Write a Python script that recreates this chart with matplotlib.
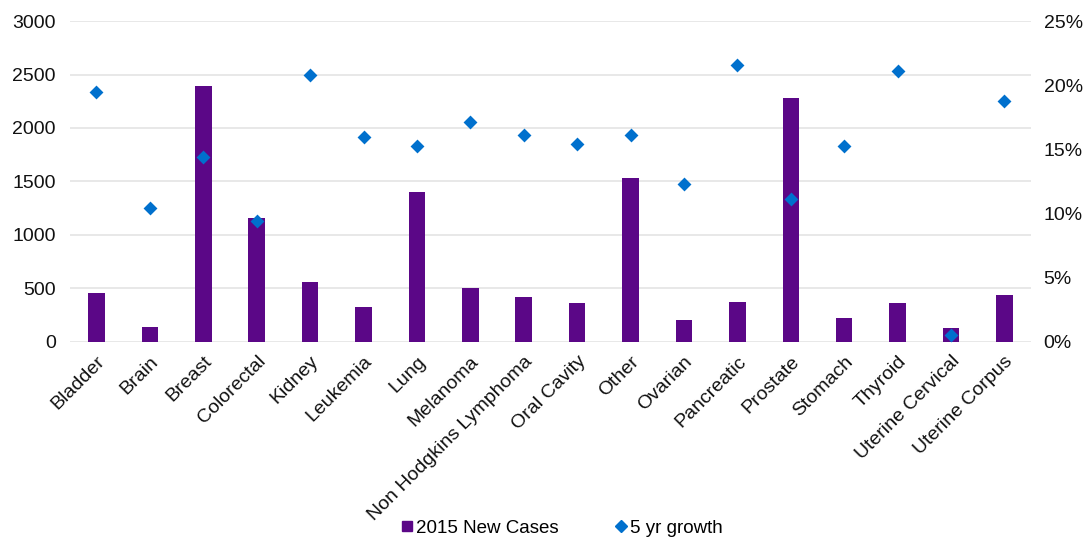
import matplotlib
matplotlib.use("Agg")
import matplotlib.pyplot as plt
from matplotlib.ticker import FuncFormatter, MultipleLocator
from matplotlib.lines import Line2D

categories = ["Bladder", "Brain", "Breast", "Colorectal", "Kidney", "Leukemia", "Lung",
              "Melanoma", "Non Hodgkins Lymphoma", "Oral Cavity", "Other", "Ovarian",
              "Pancreatic", "Prostate", "Stomach", "Thyroid", "Uterine Cervical", "Uterine Corpus"]
new_cases = [460, 135, 2390, 1160, 560, 330, 1400, 500, 420, 365, 1530, 200, 375, 2280,
             220, 365, 125, 442]
growth_pct = [19.5, 10.4, 14.4, 9.4, 20.8, 16.0, 15.3, 17.1, 16.1, 15.4, 16.1, 12.3,
              21.6, 11.1, 15.3, 21.1, 0.5, 18.8]

plt.rcParams['font.family'] = ['Liberation Sans', 'DejaVu Sans']

BAR = "#5B0787"
DIA = "#0070CD"
GRID = "#E2E2E2"

fig = plt.figure(figsize=(10.9, 5.4), dpi=100)
ax = fig.add_axes([0.064, 0.367, 0.882, 0.594])
ax2 = ax.twinx()

x = list(range(len(categories)))
ax.bar(x, new_cases, width=0.31, color=BAR, zorder=2)
ax2.scatter(x, growth_pct, marker="D", s=50, color=DIA, zorder=3, linewidths=0)

ax.set_xlim(-0.5, len(categories) - 0.5)
ax.set_ylim(0, 3000)
ax2.set_ylim(0, 25)
ax.yaxis.set_major_locator(MultipleLocator(500))
ax2.yaxis.set_major_locator(MultipleLocator(5))
ax2.yaxis.set_major_formatter(FuncFormatter(lambda v, p: f"{v:.0f}%"))

ax.grid(axis="y", color=GRID, linewidth=1.1, zorder=0)
ax.set_axisbelow(True)
for a in (ax, ax2):
    for s in a.spines.values():
        s.set_visible(False)
    a.tick_params(length=0, labelsize=14, colors="#111111")
ax.tick_params(axis="y", pad=10)
ax2.tick_params(axis="y", pad=9)

ax.set_xticks(x)
ax.set_xticklabels(categories, rotation=45, ha="right", rotation_mode="anchor")
ax.tick_params(axis="x", pad=8)

handles = [Line2D([], [], marker="s", linestyle="none", color=BAR, markersize=7),
           Line2D([], [], marker="D", linestyle="none", color=DIA, markersize=6.5)]
fig.legend(handles, ["2015 New Cases", "5 yr growth"], loc="center",
           bbox_to_anchor=(0.514, 0.022), ncol=2, frameon=False, fontsize=13.5,
           handletextpad=0.0, columnspacing=2.8, handlelength=1.0)

fig.savefig("out.png", dpi=100)
